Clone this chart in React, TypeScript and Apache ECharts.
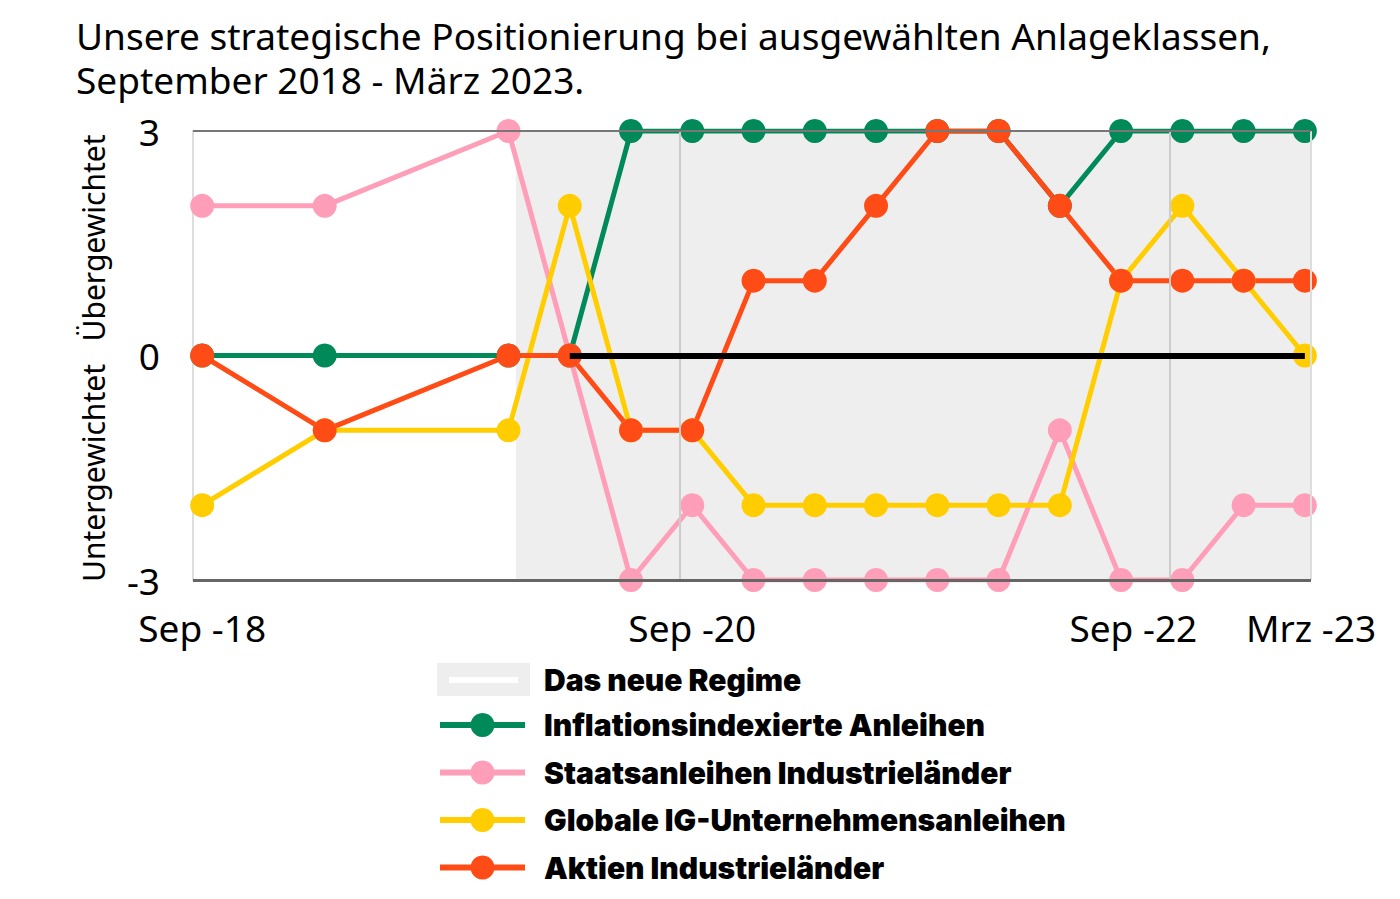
import React, { useEffect, useRef } from "react";
import * as echarts from "echarts";

const quarters = ["Sep -18", "Mrz -19", "Dez -19", "Mrz -20", "Jun -20", "Sep -20", "Dez -20", "Mrz -21", "Jun -21", "Sep -21", "Dez -21", "Mrz -22", "Jun -22", "Sep -22", "Dez -22", "Mrz -23"];
const quarterIndex = [0, 2, 5, 6, 7, 8, 9, 10, 11, 12, 13, 14, 15, 16, 17, 18];

const inflationLinked = [0, 0, 0, 0, 3, 3, 3, 3, 3, 3, 3, 2, 3, 3, 3, 3];
const govBonds = [2, 2, 3, 0, -3, -2, -3, -3, -3, -3, -3, -1, -3, -3, -2, -2];
const igCredit = [-2, -1, -1, 2, -1, -1, -2, -2, -2, -2, -2, -2, 1, 2, 1, 0];
const equities = [0, -1, 0, 0, -1, -1, 1, 1, 2, 3, 3, 2, 1, 1, 1, 1];

const xTickLabels = ["Sep -18", "Sep -20", "Sep -22", "Mrz -23"];
const xTickValues = [0, 8, 15.2, 18.1];
const yTickValues = [-3, 0, 3];

const titleLines = [
  "Unsere strategische Positionierung bei ausgewählten Anlageklassen,",
  "September 2018 - März 2023.",
];

const seriesNames = [
  "Inflationsindexierte Anleihen",
  "Staatsanleihen Industrieländer",
  "Globale IG-Unternehmensanleihen",
  "Aktien Industrieländer",
];
const seriesColors = ["#008a5a", "#ff9eb8", "#ffcd00", "#ff4c16"];
const seriesValues = [inflationLinked, govBonds, igCredit, equities];

const regimeName = "Das neue Regime";
const regimeStart = 5.12;
const xMin = -0.15;
const xMax = 18.1;
const dividers = [7.8, 15.8];
const neutralFrom = 6;
const neutralTo = 18;

export default function App() {
  const ref = useRef<HTMLDivElement>(null);
  useEffect(() => {
    if (!ref.current) return;
    const chart = echarts.init(ref.current, null, { renderer: "svg" });
    const font = "'Noto Sans', 'Open Sans', sans-serif";
    const boldFont = "Inter, Roboto, 'Noto Sans', sans-serif";

    const lineSeries = seriesNames.map((name, i) => ({
      name,
      type: "line",
      z: 3,
      data: quarterIndex.map((q, j) => [q, seriesValues[i][j]]),
      symbol: "circle",
      symbolSize: 24,
      showSymbol: true,
      lineStyle: { color: seriesColors[i], width: 5 },
      itemStyle: { color: seriesColors[i] },
      emphasis: { disabled: true },
    }));

    const legendText = { fontFamily: boldFont, fontWeight: 900, fontSize: 30, color: "#000" };

    const option = {
      animation: false,
      backgroundColor: "#ffffff",
      title: titleLines.map((t, i) => ({
        text: t,
        left: 71,
        top: 8 + i * 44,
        textStyle: { fontFamily: font, fontSize: 37, fontWeight: "normal", color: "#000", lineHeight: 44 },
      })),
      grid: { left: 193, right: 89, top: 131, bottom: 319, containLabel: false },
      xAxis: {
        type: "value",
        min: xMin,
        max: xMax,
        axisLine: { show: false },
        axisTick: { show: false },
        splitLine: { show: false },
        axisLabel: {
          customValues: xTickValues,
          formatter: (v: number) => {
            const k = xTickValues.findIndex((t) => Math.abs(t - v) < 1e-6);
            return k >= 0 ? xTickLabels[k] : "";
          },
          fontFamily: font,
          fontSize: 37,
          color: "#000",
          margin: 29,
        },
      },
      yAxis: {
        type: "value",
        min: -3,
        max: 3,
        interval: 3,
        axisLine: { show: true, onZero: false, lineStyle: { color: "#dddddd", width: 2 } },
        axisTick: { show: false },
        splitLine: { show: false },
        axisLabel: {
          customValues: yTickValues,
          fontFamily: font,
          fontSize: 37,
          color: "#000",
          margin: 33,
        },
      },
      legend: [
        {
          data: [
            {
              name: regimeName,
              icon: "path://M0,0H93V33H0Z M12,14V20H81V14Z",
            },
          ],
          left: 432,
          top: 658,
          itemWidth: 93,
          itemHeight: 33,
          selectedMode: false,
          itemStyle: { color: "#eeeeee" },
          textStyle: { ...legendText, padding: [0, 0, 0, 9] },
        },
        {
          data: seriesNames,
          orient: "vertical",
          left: 432,
          top: 705,
          itemWidth: 85,
          itemHeight: 30,
          itemGap: 17.5,
          selectedMode: false,
          lineStyle: { width: 6 },
          textStyle: { ...legendText, padding: [0, 0, 0, 14] },
        },
      ],
      graphic: [
        {
          type: "text",
          x: 93,
          y: 238,
          rotation: Math.PI / 2,
          style: {
            text: "Übergewichtet",
            font: `30px ${font}`,
            fill: "#000",
            textAlign: "center",
            textVerticalAlign: "middle",
          },
        },
        {
          type: "text",
          x: 93,
          y: 473,
          rotation: Math.PI / 2,
          style: {
            text: "Untergewichtet",
            font: `30px ${font}`,
            fill: "#000",
            textAlign: "center",
            textVerticalAlign: "middle",
          },
        },
      ],
      series: [
        {
          name: regimeName,
          type: "line",
          z: 1,
          data: [],
          itemStyle: { color: "#eeeeee" },
          lineStyle: { color: "#eeeeee" },
          markArea: {
            silent: true,
            itemStyle: { color: "#eeeeee" },
            data: [[{ xAxis: regimeStart }, { xAxis: xMax }]],
          },
          markLine: {
            silent: true,
            symbol: "none",
            label: { show: false },
            data: [
              ...dividers.map((d) => ({ xAxis: d, lineStyle: { color: "#cccccc", width: 2, type: "solid" } })),
              { xAxis: xMax, lineStyle: { color: "#dddddd", width: 2, type: "solid" } },
              { yAxis: 3, lineStyle: { color: "#777777", width: 2, type: "solid" } },
              { yAxis: -3, lineStyle: { color: "#666666", width: 3, type: "solid" } },
              [
                { coord: [neutralFrom, 0], lineStyle: { color: "#000000", width: 6, type: "solid" } },
                { coord: [neutralTo, 0] },
              ],
            ],
          },
        },
        ...lineSeries,
      ],
    };
    chart.setOption(option as any);
    return () => chart.dispose();
  }, []);
  return <div ref={ref} style={{ width: 1400, height: 899, margin: -8 }} />;
}
